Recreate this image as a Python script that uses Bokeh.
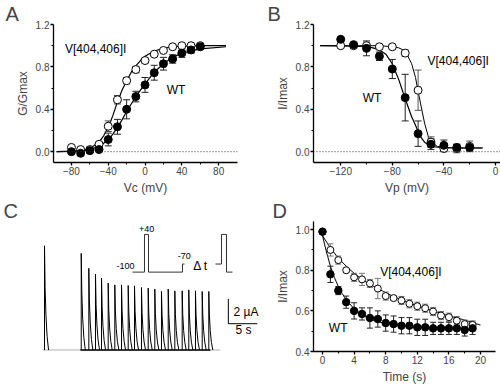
from bokeh.plotting import figure
from bokeh.layouts import row, column
from bokeh.models import FixedTicker, Span, Label, Range1d, NumeralTickFormatter
from bokeh.embed import file_html
from bokeh.resources import INLINE

FONT = "Liberation Sans"

# ---------------- Panel A : activation (G/Gmax vs Vc) ----------------
a_v = [-80, -70, -60, -50, -40, -30, -20, -10, 0, 10, 20, 30, 40, 50, 60]
a_mut = [0.04, 0.02, 0.02, 0.07, 0.24, 0.49, 0.67, 0.775, 0.86, 0.92, 0.955, 0.99, 1.0, 1.0, 1.0]
a_mut_err = [0.01, 0.01, 0.01, 0.02, 0.05, 0.04, 0.03, 0.03, 0.02, 0.01, 0.01, 0.01, 0.01, 0.01, 0.01]
a_wt = [0.0, -0.015, 0.01, 0.02, 0.115, 0.235, 0.40, 0.52, 0.63, 0.745, 0.83, 0.875, 0.93, 0.96, 0.99]
a_wt_err = [0.01, 0.01, 0.01, 0.01, 0.06, 0.07, 0.09, 0.05, 0.07, 0.07, 0.06, 0.04, 0.04, 0.03, 0.02]
a_fit_v = [-96, -80, -70, -60, -50, -45, -40, -35, -30, -25, -20, -15, -10, -5, 0, 10, 20, 30, 40, 60, 88]
a_fit_mut = [0, 0.005, 0.01, 0.03, 0.09, 0.15, 0.23, 0.34, 0.47, 0.58, 0.67, 0.75, 0.81, 0.86, 0.90, 0.95, 0.975, 0.99, 0.995, 1.0, 1.0]
a_fit_wt = [0, 0.002, 0.005, 0.02, 0.05, 0.08, 0.11, 0.165, 0.23, 0.30, 0.38, 0.45, 0.52, 0.58, 0.64, 0.75, 0.83, 0.89, 0.93, 0.97, 0.99]

# ---------------- Panel B : inactivation (I/Imax vs Vp) ----------------
b_v = [-120, -110, -100, -90, -80, -70, -60, -50, -40, -30, -20]
b_wt = [1.06, 1.01, 0.975, 0.90, 0.78, 0.51, 0.17, 0.07, 0.06, 0.04, 0.04]
b_wt_err = [0.01, 0.02, 0.07, 0.04, 0.09, 0.22, 0.12, 0.05, 0.05, 0.03, 0.03]
b_mut = [1.0, 1.0, 1.0, 0.99, 0.99, 0.93, 0.58, 0.09, 0.03, 0.03, 0.05]
b_mut_err = [0.01, 0.02, 0.02, 0.02, 0.02, 0.03, 0.19, 0.05, 0.03, 0.04, 0.05]
b_fit_v = [-136, -110, -100, -95, -90, -85, -80, -75, -70, -65, -62, -60, -58, -55, -52, -50, -45, -40, -30, -10]
b_fit_wt = [1.0, 0.995, 0.99, 0.98, 0.96, 0.92, 0.83, 0.68, 0.50, 0.33, 0.25, 0.19, 0.14, 0.09, 0.065, 0.055, 0.042, 0.037, 0.035, 0.035]
b_fit_mut = [1.0, 1.0, 1.0, 1.0, 1.0, 0.995, 0.99, 0.98, 0.95, 0.83, 0.70, 0.57, 0.45, 0.27, 0.14, 0.09, 0.05, 0.04, 0.035, 0.035]

# ---------------- Panel C : current traces ----------------
c_spike_t = [0, 6.33, 7.64, 8.79, 9.83, 10.98, 12.12, 13.28, 14.43, 15.52, 16.72,
             17.88, 19.02, 20.17, 21.33, 22.47, 23.74, 24.88, 26.03, 27.19, 28.33]
c_spike_amp = [8.4, 7.79, 6.59, 6.11, 5.79, 5.39, 5.25, 5.25, 5.2, 5.17, 5.04,
               4.99, 4.91, 4.72, 4.91, 4.77, 4.77, 4.85, 4.77, 4.72, 4.72]
c_decay_dt = [0, 0.1, 0.25, 0.45, 0.7]
c_decay_frac = [1, 0.6, 0.33, 0.13, 0]
c_base_all = [-0.34, 30.3]
c_base_train = [6.2, 28.6]
c_prot1_t = [15.17, 17.24, 17.24, 17.93, 17.93, 23.79, 23.79, 24.14]
c_prot1_mv = [-100, -100, 40, 40, -100, -100, -70, -70]
c_prot2_t = [29.48, 30.52, 30.52, 31.38, 31.38, 32.41]
c_prot2_mv = [-70, -70, 40, 40, -100, -100]
c_bar_t0, c_bar_y0 = 31.7, 2.12
c_bar_dt, c_bar_dy = 5, 2

# ---------------- Panel D : use dependence ----------------
d_t = list(range(20))
d_mut = [0.99, 0.90, 0.85, 0.80, 0.765, 0.755, 0.735, 0.71, 0.673, 0.663, 0.651, 0.635, 0.623,
         0.613, 0.597, 0.577, 0.569, 0.552, 0.535, 0.531]
d_mut_err = [0.01, 0.03, 0.02, 0.01, 0.02, 0.03, 0.02, 0.05, 0.02, 0.01, 0.02, 0.02, 0.02,
             0.02, 0.02, 0.02, 0.02, 0.02, 0.02, 0.02]
d_wt = [0.99, 0.78, 0.70, 0.643, 0.60, 0.585, 0.565, 0.56, 0.54, 0.535, 0.527, 0.527, 0.519,
        0.519, 0.514, 0.514, 0.514, 0.514, 0.506, 0.514]
d_wt_err = [0.01, 0.04, 0.02, 0.03, 0.04, 0.03, 0.05, 0.04, 0.04, 0.04, 0.04, 0.04, 0.04,
            0.04, 0.03, 0.03, 0.03, 0.03, 0.03, 0.03]
d_fit_wt_t = [0, 0.5, 1, 1.5, 2, 2.5, 3, 4, 5, 6, 7, 8, 10, 12, 14, 16, 18, 19]
d_fit_wt = [0.97, 0.89, 0.82, 0.765, 0.72, 0.685, 0.655, 0.61, 0.58, 0.56, 0.547, 0.538, 0.527,
            0.52, 0.516, 0.513, 0.511, 0.51]
d_fit_mut_t = [0, 1, 2, 3, 4, 5, 6, 7, 8, 9, 10, 12, 14, 16, 18, 20]
d_fit_mut = [0.97, 0.91, 0.86, 0.82, 0.785, 0.755, 0.73, 0.71, 0.69, 0.67, 0.655, 0.625, 0.60,
             0.575, 0.555, 0.53]


def new_fig(w, h, xr, yr, bl, br, bt, bb):
    p = figure(width=w, height=h, x_range=Range1d(*xr), y_range=Range1d(*yr),
               output_backend="svg", toolbar_location=None,
               min_border_left=bl, min_border_right=br, min_border_top=bt, min_border_bottom=bb)
    p.outline_line_color = None
    p.grid.visible = False
    return p


def style_axes(p, xt, xm, yt, ym, yfmt, xlabel, ylabel):
    p.xaxis.ticker = FixedTicker(ticks=xt, minor_ticks=xm)
    p.yaxis.ticker = FixedTicker(ticks=yt, minor_ticks=ym)
    p.yaxis.formatter = NumeralTickFormatter(format=yfmt)
    p.xaxis.axis_label = xlabel
    p.yaxis.axis_label = ylabel
    for ax in p.axis:
        ax.axis_line_width = 1.3
        ax.major_tick_line_width = 1.3
        ax.minor_tick_line_width = 1
        ax.major_tick_in = 0
        ax.major_tick_out = 3
        ax.minor_tick_in = 0
        ax.minor_tick_out = 2
        ax.major_label_text_font = FONT
        ax.major_label_text_font_size = "10px"
        ax.axis_label_text_font = FONT
        ax.axis_label_text_font_size = "12px"
        ax.axis_label_text_font_style = "normal"
        ax.major_label_standoff = 1
        ax.axis_label_standoff = 3


def errbars(p, x, y, e, color, cap):
    lo = [a - b for a, b in zip(y, e)]
    hi = [a + b for a, b in zip(y, e)]
    p.segment(x0=x, y0=lo, x1=x, y1=hi, line_color=color, line_width=1)
    p.scatter(x=list(x) + list(x), y=lo + hi, marker="dash", size=cap, line_color=color, line_width=1)


def text(p, x, y, t, size="12px", align="left", rng="default"):
    p.add_layout(Label(x=x, y=y, text=t, text_font=FONT, text_font_size=size,
                       text_align=align, text_baseline="middle", text_color="black",
                       y_range_name=rng))


def title_letter(p, t, offset):
    p.title.text = t
    p.title.text_font = FONT
    p.title.text_font_size = "20px"
    p.title.text_font_style = "normal"
    p.title.align = "left"
    p.title.offset = offset
    p.title.standoff = 0


# ---------- A ----------
pA = new_fig(250, 197, (-99.5, 100.5), (-0.102, 1.2), 53, 13, 23, 33)
style_axes(pA, [-80, -40, 0, 40, 80], [-60, -20, 20, 60], [0, 0.4, 0.8, 1.2], [0.2, 0.6, 1.0],
           "0.0", "Vc (mV)", "G/Gmax")
pA.add_layout(Span(location=0, dimension="width", line_color="#333333", line_dash="1 2", line_width=1))
pA.line(a_fit_v, a_fit_mut, line_color="black", line_width=1.2)
pA.line(a_fit_v, a_fit_wt, line_color="black", line_width=1.2)
errbars(pA, a_v, a_mut, a_mut_err, "#444444", 7)
errbars(pA, a_v, a_wt, a_wt_err, "#222222", 7)
pA.scatter(a_v, a_mut, marker="circle", size=8, fill_color="white", line_color="black", line_width=1)
pA.scatter(a_v, a_wt, marker="circle", size=8, fill_color="black", line_color="black")
text(pA, -87, 0.97, "V[404,406]I")
text(pA, 23.5, 0.58, "WT")
title_letter(pA, "A", -48)

# ---------- B ----------
pB = new_fig(250, 197, (-141.1, 3.9), (-0.102, 1.2), 63, 0, 23, 33)
style_axes(pB, [-120, -80, -40, 0], [-100, -60, -20], [0, 0.4, 0.8, 1.2], [0.2, 0.6, 1.0],
           "0.0", "Vp (mV)", "I/Imax")
pB.add_layout(Span(location=0, dimension="width", line_color="#333333", line_dash="1 2", line_width=1))
pB.line(b_fit_v, b_fit_mut, line_color="black", line_width=1)
pB.line(b_fit_v, b_fit_wt, line_color="black", line_width=1.2)
errbars(pB, b_v, b_mut, b_mut_err, "#555555", 7)
errbars(pB, b_v, b_wt, b_wt_err, "#222222", 7)
pB.scatter(b_v, b_mut, marker="circle", size=8, fill_color="white", line_color="black", line_width=1)
pB.scatter(b_v, b_wt, marker="circle", size=8, fill_color="black", line_color="black")
text(pB, -52.7, 0.86, "V[404,406]I")
text(pB, -103, 0.51, "WT")
title_letter(pB, "B", -46)

# ---------- C ----------
pC = figure(width=270, height=189, x_range=Range1d(-7.59, 38.97), y_range=Range1d(-0.12, 10.36),
            output_backend="svg", toolbar_location=None, x_axis_location=None, y_axis_location=None,
            min_border_left=0, min_border_right=0, min_border_top=23, min_border_bottom=35)
pC.extra_y_ranges = {"mv": Range1d(-395.2, 88.2)}
pC.outline_line_color = None
pC.grid.visible = False
pC.line(c_base_all, [0, 0], line_color="#b0b0b0", line_width=1)
pC.line(c_base_train, [0, 0], line_color="black", line_width=1.5)
xs, ys = [], []
for t0, amp in zip(c_spike_t, c_spike_amp):
    xs.append([t0] + [t0 + d for d in c_decay_dt])
    ys.append([0] + [amp * f for f in c_decay_frac])
pC.multi_line(xs, ys, line_color="black", line_width=1)
pC.line(c_prot1_t, c_prot1_mv, line_color="#333333", line_width=1, y_range_name="mv")
pC.line(c_prot2_t, c_prot2_mv, line_color="#333333", line_width=1, y_range_name="mv")
pC.line([c_bar_t0, c_bar_t0, c_bar_t0 + c_bar_dt],
        [c_bar_y0 + c_bar_dy, c_bar_y0, c_bar_y0], line_color="black", line_width=1)
text(pC, 15.5, -78, "-100", size="9px", align="right", rng="mv")
text(pC, 17.6, 62, "+40", size="9px", align="center", rng="mv")
text(pC, 24.1, -41, "-70", size="9px", align="center", rng="mv")
text(pC, 26.9, -78, "Δ t", size="12px", align="center", rng="mv")
text(pC, 32.6, 3.08, "2 µA", size="12px")
text(pC, 34.3, 1.64, "5 s", size="12px", align="center")
title_letter(pC, "C", 3)

# ---------- D ----------
pD = new_fig(230, 189, (-1.14, 21.9), (0.4, 1.04), 43, 5, 23, 35)
style_axes(pD, [0, 4, 8, 12, 16, 20], [2, 6, 10, 14, 18], [0.4, 0.6, 0.8, 1.0], [0.5, 0.7, 0.9],
           "0.0", "Time (s)", "I/Imax")
pD.line(d_fit_mut_t, d_fit_mut, line_color="black", line_width=1)
pD.line(d_fit_wt_t, d_fit_wt, line_color="black", line_width=1)
errbars(pD, d_t, d_mut, d_mut_err, "#777777", 6)
errbars(pD, d_t, d_wt, d_wt_err, "#222222", 6)
pD.scatter(d_t, d_mut, marker="circle", size=7, fill_color="white", line_color="black", line_width=1)
pD.scatter(d_t, d_wt, marker="circle", size=7.5, fill_color="black", line_color="black")
text(pD, 7.3, 0.79, "V[404,406]I")
text(pD, 0.8, 0.515, "WT")
title_letter(pD, "D", -41)

layout = column(row(pA, pB), row(pC, pD))
open("out.html", "w").write(file_html(layout, INLINE))
